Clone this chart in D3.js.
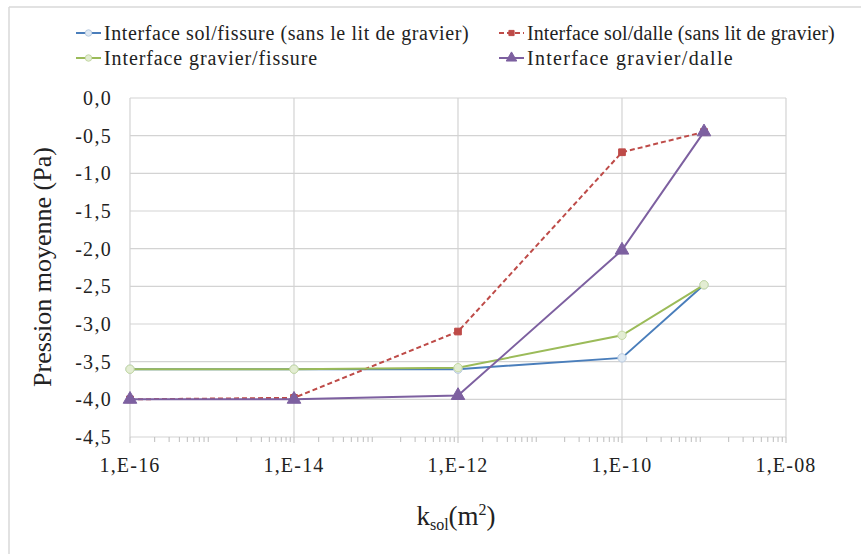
<!DOCTYPE html>
<html><head><meta charset="utf-8">
<script src="https://cdn.jsdelivr.net/npm/d3@7"></script>
<style>body{margin:0;background:#fff}svg{display:block}svg text{font-family:"Liberation Serif","DejaVu Serif",serif}</style>
</head><body>
<svg id="c" width="861" height="554"></svg>
<script>
const xValues = [1e-16, 1e-14, 1e-12, 1e-10, 1e-9];
const seriesNames = [
  "Interface sol/fissure (sans le lit de gravier)",
  "Interface sol/dalle (sans lit de gravier)",
  "Interface gravier/fissure",
  "Interface gravier/dalle"
];
const solFissure = [-3.6, -3.6, -3.6, -3.45, -2.48];
const solDalle = [-4.0, -3.98, -3.1, -0.72, -0.45];
const gravierFissure = [-3.6, -3.6, -3.58, -3.15, -2.48];
const gravierDalle = [-4.0, -4.0, -3.95, -2.02, -0.45];
const xTickValues = [1e-16, 1e-14, 1e-12, 1e-10, 1e-8];
const xTickLabels = ["1,E-16", "1,E-14", "1,E-12", "1,E-10", "1,E-08"];
const yTickValues = [0, -0.5, -1, -1.5, -2, -2.5, -3, -3.5, -4, -4.5];

const svg = d3.select("#c");
const L = 130, R = 786, T = 98, B = 437;
const x = d3.scaleLog().domain([1e-16, 1e-8]).range([L, R]);
const y = d3.scaleLinear().domain([-4.5, 0]).range([B, T]);

// outer frame
svg.append("line").attr("x1", 9).attr("x2", 861).attr("y1", 7).attr("y2", 7).attr("stroke", "#d9d9d9").attr("stroke-width", 1.5);
svg.append("line").attr("x1", 9).attr("x2", 9).attr("y1", 7).attr("y2", 554).attr("stroke", "#d9d9d9").attr("stroke-width", 1.5);

// grid
const g = svg.append("g");
g.selectAll(".hg").data(yTickValues).enter().append("line")
  .attr("x1", L).attr("x2", R).attr("y1", d => y(d)).attr("y2", d => y(d))
  .attr("stroke", "#d3d3d3").attr("stroke-width", 1.2);
g.selectAll(".vg").data(xTickValues).enter().append("line")
  .attr("x1", d => x(d)).attr("x2", d => x(d)).attr("y1", T).attr("y2", B)
  .attr("stroke", "#d3d3d3").attr("stroke-width", 1.2);

// minor ticks
const minor = [];
for (let e = -16; e < -8; e++) for (let m = 2; m <= 9; m++) minor.push(m * Math.pow(10, e));
g.selectAll(".mt").data(minor).enter().append("line")
  .attr("x1", d => x(d)).attr("x2", d => x(d)).attr("y1", B).attr("y2", B + 5)
  .attr("stroke", "#bdbdbd").attr("stroke-width", 1);
g.selectAll(".Mt").data(xTickValues).enter().append("line")
  .attr("x1", d => x(d)).attr("x2", d => x(d)).attr("y1", B).attr("y2", B + 6)
  .attr("stroke", "#bdbdbd").attr("stroke-width", 1);

// axes labels
const fmtY = d => d3.format(".1f")(d).replace("−", "-").replace(".", ",");
svg.append("g").selectAll("text").data(yTickValues).enter().append("text")
  .attr("x", 112).attr("y", d => y(d)).attr("dy", "0.35em").attr("text-anchor", "end")
  .attr("font-size", 20).attr("letter-spacing", 1.3).attr("fill", "#222")
  .text(d => fmtY(d));
svg.append("g").selectAll("text").data(xTickValues).enter().append("text")
  .attr("x", d => x(d)).attr("y", 465).attr("dy", "0.35em").attr("text-anchor", "middle")
  .attr("font-size", 20).attr("letter-spacing", 1.2).attr("fill", "#222")
  .text((d, i) => xTickLabels[i]);

svg.append("text").attr("transform", "translate(42,267) rotate(-90)")
  .attr("text-anchor", "middle").attr("dy", "0.35em").attr("font-size", 26).attr("fill", "#222")
  .text("Pression moyenne (Pa)");
const xt = svg.append("text").attr("x", 456).attr("y", 525).attr("text-anchor", "middle")
  .attr("font-size", 27).attr("fill", "#222");
xt.append("tspan").text("k");
xt.append("tspan").attr("font-size", 16).attr("dy", 5).text("sol");
xt.append("tspan").attr("dy", -5).text("(m");
xt.append("tspan").attr("font-size", 16).attr("dy", -10).text("2");
xt.append("tspan").attr("dy", 10).text(")");

// series
const series = [
  {name: seriesNames[0], vals: solFissure, color: "#4a7ebb", dash: null, marker: "circle", mfill: "#dfe9f3", mstroke: "#b9cbe0", ls: 0.6},
  {name: seriesNames[1], vals: solDalle, color: "#be4b48", dash: "5,3", marker: "square", mfill: "#be4b48", mstroke: "#be4b48", ls: 0.1},
  {name: seriesNames[2], vals: gravierFissure, color: "#9bbb59", dash: null, marker: "circle", mfill: "#e3edd3", mstroke: "#c5d9a4", ls: 0.9},
  {name: seriesNames[3], vals: gravierDalle, color: "#7d60a0", dash: null, marker: "triangle", mfill: "#7d60a0", mstroke: "#7d60a0", ls: 1.3}
];
const line = d3.line().x(d => x(d[0])).y(d => y(d[1]));
const sym = {circle: d3.symbolCircle, square: d3.symbolSquare, triangle: d3.symbolTriangle};
const size = {circle: 55, square: 45, triangle: 80};

series.forEach(s => {
  const pts = xValues.map((v, i) => [v, s.vals[i]]);
  svg.append("path").datum(pts).attr("d", line).attr("fill", "none")
    .attr("stroke", s.color).attr("stroke-width", 2).attr("stroke-dasharray", s.dash);
  svg.append("g").selectAll("path").data(pts).enter().append("path")
    .attr("d", d3.symbol().type(sym[s.marker]).size(size[s.marker]))
    .attr("transform", d => `translate(${x(d[0])},${y(d[1])})`)
    .attr("fill", s.mfill).attr("stroke", s.mstroke).attr("stroke-width", 1);
});

// legend
const legPos = [[76, 33], [499, 33], [76, 58], [499, 58]];
series.forEach((s, i) => {
  const [lx, ly] = legPos[i];
  const lg = svg.append("g");
  lg.append("line").attr("x1", lx).attr("x2", lx + 25).attr("y1", ly).attr("y2", ly)
    .attr("stroke", s.color).attr("stroke-width", 2).attr("stroke-dasharray", s.dash);
  lg.append("path").attr("d", d3.symbol().type(sym[s.marker]).size(size[s.marker] * 0.6)())
    .attr("transform", `translate(${lx + 12.5},${ly})`)
    .attr("fill", s.mfill).attr("stroke", s.mstroke);
  lg.append("text").attr("x", lx + 28).attr("y", ly).attr("dy", "0.35em")
    .attr("font-size", 20).attr("letter-spacing", s.ls).attr("fill", "#222").text(s.name);
});
</script>
</body></html>
